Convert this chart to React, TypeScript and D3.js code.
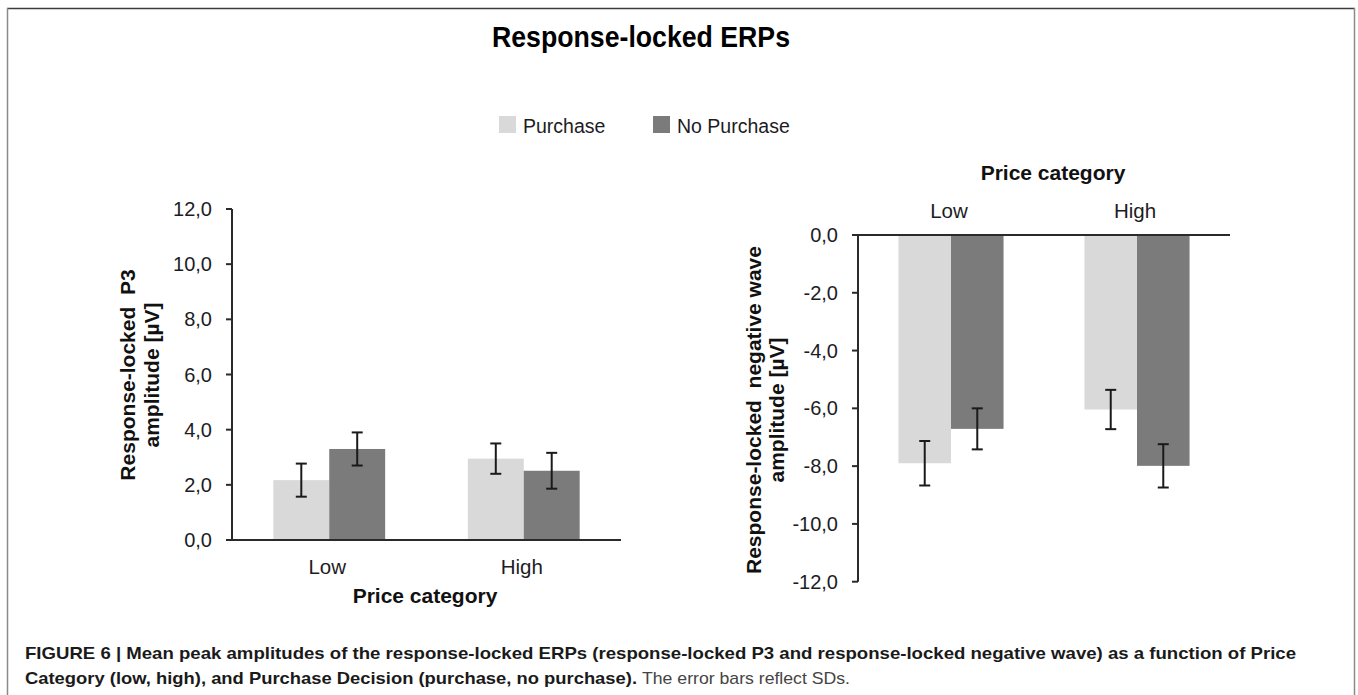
import React from "react";
import * as d3 from "d3";

// Price categories and purchase decisions
const categories = ["Low", "High"];
const decisions = ["Purchase", "No Purchase"];

// Response-locked P3 peak amplitudes (µV): [Purchase, No Purchase] per category
const p3Means = [
  [2.17, 3.3],
  [2.95, 2.51],
];
const p3SDs = [
  [0.6, 0.6],
  [0.55, 0.65],
];

// Response-locked negative wave peak amplitudes (µV)
const nwMeans = [
  [-7.9, -6.71],
  [-6.04, -7.99],
];
const nwSDs = [
  [0.77, 0.71],
  [0.68, 0.75],
];

const p3Ticks = [0, 2, 4, 6, 8, 10, 12];
const nwTicks = [0, -2, -4, -6, -8, -10, -12];

const colors = ["#d9d9d9", "#7b7b7b"];
const FONT = "'Liberation Sans', Arial, Helvetica, sans-serif";
const INK = "#1c1c24";

const fmt = (d: number) =>
  (d < 0 ? "-" : "") + Math.abs(d).toFixed(1).replace(".", ",");

type PanelProps = {
  means: number[][];
  sds: number[][];
  ticks: number[];
  xRange: [number, number];
  yDomain: [number, number];
  yRange: [number, number];
  groupFrac: number;
  catBaseline: number;
  titleX: number;
  titleBaseline: number;
  yTitle: string[];
  yTitleX: number[];
  yTitleY: number;
};

function Panel(p: PanelProps) {
  const x = d3.scaleBand<string>().domain(categories).range(p.xRange).paddingInner(0).paddingOuter(0);
  const y = d3.scaleLinear().domain(p.yDomain).range(p.yRange);
  const groupW = x.bandwidth() * p.groupFrac;
  const inner = d3
    .scaleBand<string>()
    .domain(decisions)
    .range([-groupW / 2, groupW / 2])
    .padding(0);
  const y0 = y(0);
  const yEnd = y(p.yDomain[1]);
  const axisX = p.xRange[0];
  const cap = 5.5;

  return (
    <g>
      {/* bars */}
      {categories.map((c, ci) =>
        decisions.map((s, si) => {
          const v = p.means[ci][si];
          const bx = (x(c) as number) + x.bandwidth() / 2 + (inner(s) as number);
          const top = Math.min(y(v), y0);
          return (
            <rect
              key={c + s}
              x={bx}
              y={top}
              width={inner.bandwidth()}
              height={Math.abs(y(v) - y0)}
              fill={colors[si]}
            />
          );
        })
      )}
      {/* error bars (±SD) */}
      {categories.map((c, ci) =>
        decisions.map((s, si) => {
          const v = p.means[ci][si];
          const sd = p.sds[ci][si];
          const cx = (x(c) as number) + x.bandwidth() / 2 + (inner(s) as number) + inner.bandwidth() / 2;
          const yHi = y(v + sd);
          const yLo = y(v - sd);
          return (
            <g key={"e" + c + s} stroke="#1a1a1a" strokeWidth={2}>
              <line x1={cx} x2={cx} y1={yHi} y2={yLo} />
              <line x1={cx - cap} x2={cx + cap} y1={yHi} y2={yHi} />
              <line x1={cx - cap} x2={cx + cap} y1={yLo} y2={yLo} />
            </g>
          );
        })
      )}
      {/* axes */}
      <line x1={axisX} x2={axisX} y1={Math.min(y0, yEnd)} y2={Math.max(y0, yEnd)} stroke="#2a2a2a" strokeWidth={2} />
      <line x1={axisX} x2={p.xRange[1]} y1={y0} y2={y0} stroke="#2a2a2a" strokeWidth={2} />
      {p.ticks.map((t) => (
        <g key={"t" + t}>
          <line x1={axisX - 6} x2={axisX} y1={y(t)} y2={y(t)} stroke="#2a2a2a" strokeWidth={2} />
          <text
            x={axisX - 20}
            y={y(t)}
            dy="0.35em"
            textAnchor="end"
            fontFamily={FONT}
            fontSize={20}
            fill={INK}
          >
            {fmt(t)}
          </text>
        </g>
      ))}
      {categories.map((c) => (
        <text
          key={"c" + c}
          x={(x(c) as number) + x.bandwidth() / 2 - 2}
          y={p.catBaseline}
          textAnchor="middle"
          fontFamily={FONT}
          fontSize={20.5}
          fill={INK}
        >
          {c}
        </text>
      ))}
      <text
        x={p.titleX}
        y={p.titleBaseline}
        textAnchor="middle"
        fontFamily={FONT}
        fontSize={21}
        fontWeight="bold"
        fill="#111"
      >
        Price category
      </text>
      {p.yTitle.map((line, i) => (
        <text
          key={"yt" + i}
          transform={`translate(${p.yTitleX[i]},${p.yTitleY}) rotate(-90)`}
          textAnchor="middle"
          fontFamily={FONT}
          fontSize={21}
          fontWeight="bold"
          fill="#111"
          style={{ whiteSpace: "pre" }}
        >
          {line}
        </text>
      ))}
    </g>
  );
}

export default function App() {
  return (
    <svg
      width={1358}
      height={695}
      viewBox="0 0 1358 695"
      style={{ position: "absolute", left: 0, top: 0, background: "#fff" }}
    >
      <rect x={0} y={0} width={1358} height={695} fill="#fff" />
      {/* frame */}
      <line x1={7} x2={1355} y1={8.5} y2={8.5} stroke="#3c3c3c" strokeWidth={1.5} />
      <line x1={7.5} x2={7.5} y1={8} y2={695} stroke="#8a8a8a" strokeWidth={1.5} />
      <line x1={1354.5} x2={1354.5} y1={8} y2={695} stroke="#8a8a8a" strokeWidth={1.5} />

      {/* title */}
      <text
        x={641}
        y={47}
        textAnchor="middle"
        fontFamily={FONT}
        fontSize={29}
        fontWeight="bold"
        fill="#000"
        textLength={298}
        lengthAdjust="spacingAndGlyphs"
      >
        Response-locked ERPs
      </text>

      {/* legend */}
      {decisions.map((s, i) => {
        const lx = [499, 653][i];
        return (
          <g key={"lg" + s}>
            <rect x={lx} y={116} width={17} height={17} fill={colors[i]} />
            <text x={lx + 24} y={132.5} fontFamily={FONT} fontSize={19.5} fill={INK}>
              {s}
            </text>
          </g>
        );
      })}

      <Panel
        means={p3Means}
        sds={p3SDs}
        ticks={p3Ticks}
        xRange={[232, 621]}
        yDomain={[0, 12]}
        yRange={[540, 209]}
        groupFrac={0.575}
        catBaseline={574}
        titleX={425}
        titleBaseline={603}
        yTitle={["Response-locked  P3", "amplitude [µV]"]}
        yTitleX={[135, 159]}
        yTitleY={375}
      />

      <Panel
        means={nwMeans}
        sds={nwSDs}
        ticks={nwTicks}
        xRange={[858, 1230]}
        yDomain={[0, -12]}
        yRange={[235, 581.7]}
        groupFrac={0.565}
        catBaseline={218}
        titleX={1053}
        titleBaseline={180}
        yTitle={["Response-locked  negative wave", "amplitude [µV]"]}
        yTitleX={[761, 784]}
        yTitleY={410}
      />

      {/* caption */}
      <text
        x={25}
        y={659}
        fontFamily={FONT}
        fontSize={17}
        fontWeight="bold"
        fill="#1a1a1a"
        textLength={1271}
        lengthAdjust="spacingAndGlyphs"
      >
        FIGURE 6 | Mean peak amplitudes of the response-locked ERPs (response-locked P3 and response-locked negative wave) as a function of Price
      </text>
      <text
        x={25}
        y={684}
        fontFamily={FONT}
        fontSize={17}
        fontWeight="bold"
        fill="#1a1a1a"
        textLength={612}
        lengthAdjust="spacingAndGlyphs"
      >
        Category (low, high), and Purchase Decision (purchase, no purchase).
      </text>
      <text
        x={642}
        y={684}
        fontFamily={FONT}
        fontSize={17}
        fill="#444"
        textLength={208}
        lengthAdjust="spacingAndGlyphs"
      >
        The error bars reflect SDs.
      </text>
    </svg>
  );
}
